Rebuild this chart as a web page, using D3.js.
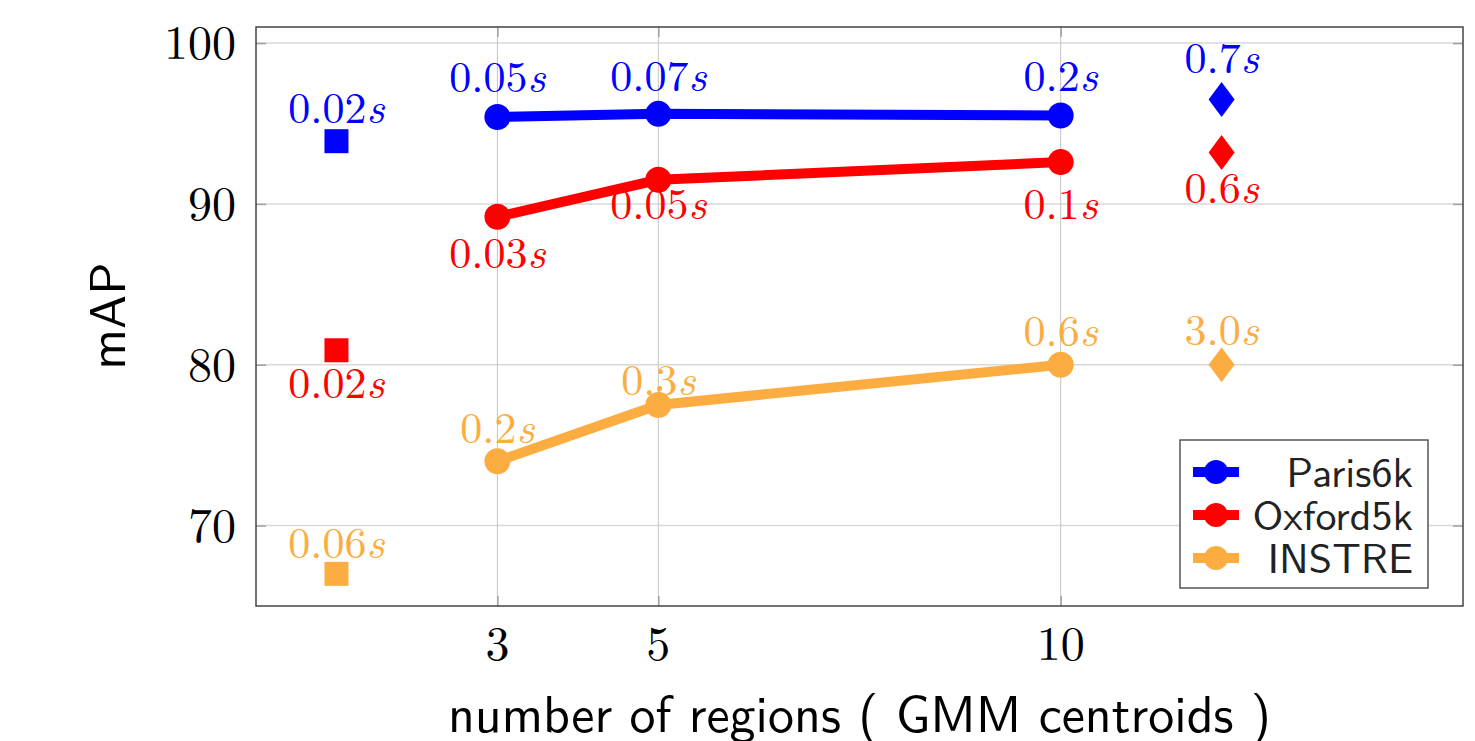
<!DOCTYPE html>
<html>
<head>
<meta charset="utf-8">
<script src="https://cdn.jsdelivr.net/npm/d3@7"></script>
<style>
  html, body { margin: 0; padding: 0; background: #ffffff; }
  svg { display: block; }
</style>
</head>
<body>
<svg id="chart" width="1475" height="741"></svg>
<script>
// ---- data ----
const seriesNames = ["Paris6k", "Oxford5k", "INSTRE"];
const seriesColors = ["#0000ff", "#ff0000", "#fcad41"];

const regions = [3, 5, 10];
const parisMAP = [95.4, 95.6, 95.5];
const oxfordMAP = [89.2, 91.5, 92.6];
const instreMAP = [74.0, 77.5, 80.0];
const parisTime = ["0.05", "0.07", "0.2"];
const oxfordTime = ["0.03", "0.05", "0.1"];
const instreTime = ["0.2", "0.3", "0.6"];

// single-point methods shown left (squares) and right (diamonds)
const squareX = 1;
const squareMAP = [93.9, 80.9, 67.0];
const squareTime = ["0.02", "0.02", "0.06"];
const diamondX = 12;
const diamondMAP = [96.5, 93.2, 80.0];
const diamondTime = ["0.7", "0.6", "3.0"];

const xTicks = [3, 5, 10];
const yTicks = [70, 80, 90, 100];
const xLabel = "number of regions ( GMM centroids )";
const yLabel = "mAP";

// ---- layout ----
const svg = d3.select('#chart');
const margin = { top: 27, right: 12, bottom: 135, left: 256 };
const width = 1475 - margin.left - margin.right;
const height = 741 - margin.top - margin.bottom;

const x = d3.scaleLinear().domain([0, 15]).range([0, width]);
const y = d3.scaleLinear().domain([65, 101]).range([height, 0]);

const g = svg.append('g')
    .attr('transform', `translate(${margin.left},${margin.top})`);

const serif = "'Latin Modern Roman', 'Liberation Serif', serif";
const sans = "'Latin Modern Sans', 'Liberation Sans', sans-serif";

// grid
g.append('g').selectAll('line')
    .data(yTicks).enter().append('line')
    .attr('x1', 0).attr('x2', width)
    .attr('y1', d => y(d)).attr('y2', d => y(d))
    .attr('stroke', '#d8d8d8').attr('stroke-width', 1.5);

g.append('g').selectAll('line')
    .data(xTicks).enter().append('line')
    .attr('x1', d => x(d)).attr('x2', d => x(d))
    .attr('y1', 0).attr('y2', height)
    .attr('stroke', '#c4c4c4').attr('stroke-width', 1);

// inner tick marks on all four sides
const tickLen = 10;
g.append('g').call(d3.axisLeft(y).tickValues(yTicks).tickSize(-tickLen).tickFormat(''));
g.append('g').attr('transform', `translate(${width},0)`)
    .call(d3.axisRight(y).tickValues(yTicks).tickSize(-tickLen).tickFormat(''));
g.append('g').attr('transform', `translate(0,${height})`)
    .call(d3.axisBottom(x).tickValues(xTicks).tickSize(-tickLen).tickFormat(''));
g.append('g')
    .call(d3.axisTop(x).tickValues(xTicks).tickSize(-tickLen).tickFormat(''));
g.selectAll('.domain').remove();
g.selectAll('.tick line').attr('stroke', '#a0a0a0').attr('stroke-width', 1.5);

// tick labels
g.append('g').selectAll('text')
    .data(yTicks).enter().append('text')
    .attr('x', -20).attr('y', d => y(d))
    .attr('dy', '0.34em')
    .attr('text-anchor', 'end')
    .style('font-family', serif).style('font-size', '48px').style('fill', '#000')
    .text(d => d);

g.append('g').selectAll('text')
    .data(xTicks).enter().append('text')
    .attr('x', d => x(d)).attr('y', height + 54)
    .attr('text-anchor', 'middle')
    .style('font-family', serif).style('font-size', '48px').style('fill', '#000')
    .text(d => d);

// frame
g.append('rect')
    .attr('x', 0).attr('y', 0).attr('width', width).attr('height', height)
    .attr('fill', 'none').attr('stroke', '#444').attr('stroke-width', 1.5);

// lines + markers
const lineSeries = [
    { name: seriesNames[0], values: parisMAP, times: parisTime, color: seriesColors[0] },
    { name: seriesNames[1], values: oxfordMAP, times: oxfordTime, color: seriesColors[1] },
    { name: seriesNames[2], values: instreMAP, times: instreTime, color: seriesColors[2] }
];

const line = d3.line()
    .x(d => x(d.r))
    .y(d => y(d.v));

lineSeries.forEach(s => {
    const pts = regions.map((r, i) => ({ r: r, v: s.values[i], t: s.times[i] }));
    g.append('path')
        .datum(pts)
        .attr('fill', 'none')
        .attr('stroke', s.color)
        .attr('stroke-width', 10)
        .attr('d', line);
    g.selectAll(null)
        .data(pts).enter().append('circle')
        .attr('cx', d => x(d.r)).attr('cy', d => y(d.v))
        .attr('r', 13).attr('fill', s.color);
});

// square and diamond single-point markers
seriesColors.forEach((c, i) => {
    g.append('rect')
        .attr('x', x(squareX) - 12).attr('y', y(squareMAP[i]) - 12)
        .attr('width', 24).attr('height', 24)
        .attr('fill', c);
    const dx = x(diamondX), dy = y(diamondMAP[i]);
    g.append('path')
        .attr('d', `M${dx},${dy - 17.5}L${dx + 13},${dy}L${dx},${dy + 17.5}L${dx - 13},${dy}Z`)
        .attr('fill', c);
});

// timing labels: small per-point nudges to mimic the original placement
function timeLabel(px, py, t, color, dy) {
    const tx = g.append('text')
        .attr('x', x(px)).attr('y', y(py) + dy)
        .attr('text-anchor', 'middle')
        .style('font-family', serif).style('font-size', '44px')
        .style('fill', color);
    tx.append('tspan').text(t);
    tx.append('tspan').style('font-style', 'italic').text('s');
}

const lineLabelDy = [[-25, -23, -24], [51, 39, 57], [-18, -10, -19]];
lineSeries.forEach((s, si) => {
    regions.forEach((r, i) => timeLabel(r, s.values[i], s.times[i], s.color, lineLabelDy[si][i]));
});
const squareLabelDy = [-18, 48, -16];
const diamondLabelDy = [-26, 51, -20];
seriesColors.forEach((c, i) => {
    timeLabel(squareX, squareMAP[i], squareTime[i], c, squareLabelDy[i]);
    timeLabel(diamondX, diamondMAP[i], diamondTime[i], c, diamondLabelDy[i]);
});

// legend
const lg = g.append('g').attr('transform', `translate(${1180 - margin.left},${440 - margin.top})`);
lg.append('rect')
    .attr('width', 248).attr('height', 148)
    .attr('fill', '#fff').attr('stroke', '#555').attr('stroke-width', 1.5);
seriesNames.forEach((n, i) => {
    const ly = 32 + i * 43;
    lg.append('line')
        .attr('x1', 13).attr('x2', 59).attr('y1', ly).attr('y2', ly)
        .attr('stroke', seriesColors[i]).attr('stroke-width', 10);
    lg.append('circle')
        .attr('cx', 36).attr('cy', ly).attr('r', 12)
        .attr('fill', seriesColors[i]);
    lg.append('text')
        .attr('x', 233).attr('y', ly).attr('dy', '0.35em')
        .attr('text-anchor', 'end')
        .style('font-family', sans).style('font-size', '42px').style('fill', '#222')
        .text(n);
});

// axis titles
svg.append('text')
    .attr('x', margin.left + x(7.5)).attr('y', 732)
    .attr('text-anchor', 'middle')
    .style('font-family', sans).style('font-size', '52px').style('fill', '#000')
    .text(xLabel);

svg.append('text')
    .attr('transform', `translate(125,316) rotate(-90)`)
    .attr('text-anchor', 'middle')
    .style('font-family', sans).style('font-size', '51px').style('fill', '#000')
    .text(yLabel);
</script>
</body>
</html>
